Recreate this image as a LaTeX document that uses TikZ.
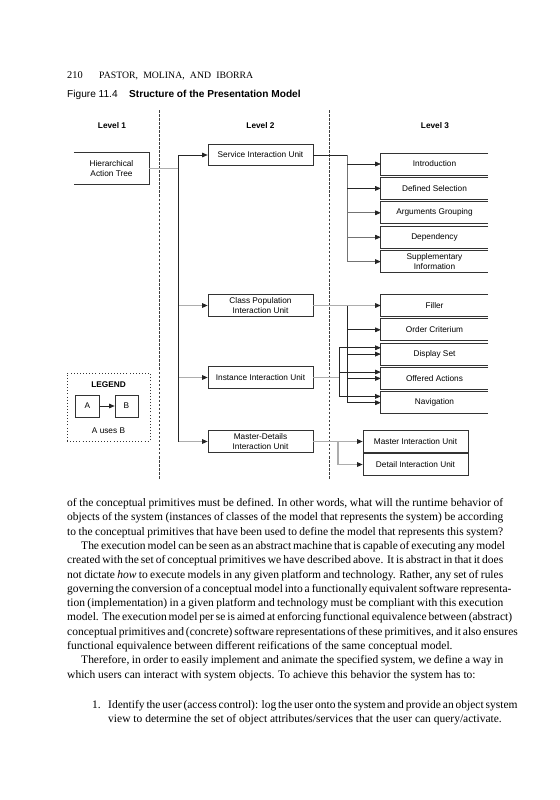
\documentclass[tikz,border=0pt]{standalone}
\usepackage{fontspec}
\setmainfont{Liberation Serif}
\newfontfamily\figsans{Liberation Sans}
\usetikzlibrary{arrows.meta}
\newlength\tw \setlength\tw{379.32pt}
\newlength\twi \setlength\twi{367.14pt}
\newlength\twl \setlength\twl{343.65pt}
\begin{document}
\begin{tikzpicture}[x=0.87pt,y=-0.87pt,
  bx/.style={draw=black!80, line width=0.6pt},
  box/.style={draw=black!80, line width=0.6pt, inner sep=0pt, minimum width=91.35pt, minimum height=18.7pt, align=center, font=\figsans\fontsize{7.2}{8.3}\selectfont},
  obox/.style={inner sep=0pt, minimum width=93.1pt, minimum height=18.7pt, align=center, font=\figsans\fontsize{7.2}{8.3}\selectfont},
  lvl/.style={inner sep=0pt, font=\figsans\bfseries\fontsize{7.2}{8.3}\selectfont},
  dk/.style={draw=black!85, line width=0.6pt},
  md/.style={draw=black!55, line width=0.7pt},
  lt/.style={draw=black!32, line width=0.9pt},
  arr/.style={-{Triangle[length=4.8pt,width=4pt,color=black!85]}},
  dsh/.style={draw=black!75, line width=0.5pt, dash pattern=on 2.2pt off 1.3pt},
  txt/.style={anchor=base west, inner sep=0pt, font=\fontsize{10}{12.5}\selectfont}
]
\fill[white] (0,0) rectangle (560,800);
\useasboundingbox (0,0) rectangle (560,800);

% header and caption
\node[anchor=base west, inner sep=0pt, font=\fontsize{9}{11}\selectfont] (pg) at (67,78.4) {210};
\node[anchor=base west, inner sep=0pt, font=\fontsize{8.5}{10}\selectfont] (hd) at (99,78.4) {\hbox to 134pt{PASTOR,\hfill MOLINA,\hfill AND\hfill IBORRA}};
\node[anchor=base west, inner sep=0pt, font=\figsans\fontsize{8.8}{10}\selectfont] (fig) at (67,97.9) {Figure 11.4};
\node[anchor=base west, inner sep=0pt, font=\figsans\bfseries\fontsize{8.8}{10}\selectfont] (cap) at (129,97.9) {Structure of the Presentation Model};

% level labels
\node[lvl] (l1) at (112,126) {Level 1};
\node[lvl] (l2) at (260.5,126) {Level 2};
\node[lvl] (l3) at (435,126) {Level 3};

% dashed separators
\coordinate (d1t) at (159,110); \coordinate (d1b) at (159,480);
\coordinate (d2t) at (329,110); \coordinate (d2b) at (329,480);
\draw[dsh] (d1t) -- (d1b);
\draw[dsh] (d2t) -- (d2b);

% level 1
\node[obox, minimum width=65.25pt, minimum height=27pt] (hier) at (111.5,168.5) {Hierarchical\\Action Tree};
\draw[bx] (hier.north west) -- (hier.north east) -- (hier.south east) -- (hier.south west);

% level 2
\node[box] (serv) at (260.5,155) {Service Interaction Unit};
\node[box] (cp) at (260.5,305.5) {Class Population\\Interaction Unit};
\node[box] (inst) at (260.5,377.5) {Instance Interaction Unit};
\node[box] (mdu) at (260.5,441.5) {Master-Details\\Interaction Unit};

% level 3
\node[obox] (intro) at (434.5,164) {Introduction};
\node[obox] (defs) at (434.5,188.4) {Defined Selection};
\node[obox] (args) at (434.5,212.8) {Arguments Grouping};
\node[obox] (dep) at (434.5,237.2) {Dependency};
\node[obox] (supp) at (434.5,261.6) {Supplementary\\Information};
\node[obox] (filler) at (434.5,305.5) {Filler};
\node[obox] (order) at (434.5,329.8) {Order Criterium};
\node[obox] (disp) at (434.5,354.1) {Display Set};
\node[obox] (offer) at (434.5,378.4) {Offered Actions};
\node[obox] (nav) at (434.5,402.7) {Navigation};
\foreach \n in {intro,defs,args,dep,supp,filler,order,disp,offer,nav}
  \draw[bx] (\n.north east) -- (\n.north west) -- (\n.south west) -- (\n.south east);
\node[box] (master) at (415.5,441.5) {Master Interaction Unit};
\node[box] (detail) at (415.5,464.5) {Detail Interaction Unit};

% trunks
\coordinate (t1) at (178,0);
\coordinate (t2) at (347,0);
\coordinate (t3) at (347,0);
\coordinate (t4) at (339,0);
\coordinate (t5) at (338,0);

% level 1 -> level 2
\draw[lt] (hier.east) -- (hier.east -| t1);
\draw[lt,arr] (t1 |- cp.west) -- (cp.west);
\draw[lt,arr] (t1 |- inst.west) -- (inst.west);
\draw[lt,arr] (t1 |- mdu.west) -- (mdu.west);
\draw[dk] (t1 |- serv.west) -- (t1 |- mdu.west);
\draw[dk,arr] (t1 |- serv.west) -- (serv.west);

% service -> level 3
\draw[md] (serv.east -| t2) -- (t2 |- supp.west);
\draw[dk] (serv.east) -- (serv.east -| t2);
\draw[dk,arr] (t2 |- intro.west) -- (intro.west);
\draw[dk,arr] (t2 |- defs.west) -- (defs.west);
\foreach \n in {args,dep,supp} \draw[md,arr] (t2 |- \n.west) -- (\n.west);

% class population and instance -> level 3
\draw[lt,arr] (cp.east) -- (filler.west);
\draw[lt] (inst.east) -- (inst.east -| t4);
\coordinate (dispU) at ([yshift=5.5pt]disp.west);
\coordinate (offerU) at ([yshift=5.5pt]offer.west);
\coordinate (navU) at ([yshift=5.5pt]nav.west);
\draw[dk] (dispU -| t4) -- (navU -| t4);
\foreach \n in {dispU,offerU,navU} \draw[dk,arr] (\n -| t4) -- (\n);
\draw[dk] (t3 |- filler.west) -- (t3 |- nav.west);
\foreach \n in {order,disp,offer,nav} \draw[dk,arr] (t3 |- \n.west) -- (\n.west);

% master-details
\draw[lt,arr] (mdu.east) -- (master.west);
\draw[lt,arr] (mdu.east -| t5) -- (t5 |- detail.west) -- (detail.west);

% legend
\node[draw=black!80, dotted, line width=0.7pt, minimum width=72.2pt, minimum height=59.2pt, inner sep=0pt] (leg) at (108.5,407) {};
\node[lvl] (legt) at (108.5,385) {LEGEND};
\node[box, minimum width=21pt, minimum height=19pt] (la) at (87.5,406) {A};
\node[box, minimum width=20pt, minimum height=19pt] (lb) at (126.5,406) {B};
\draw[dk,arr] (la.east) -- (lb.west);
\node[inner sep=0pt, font=\figsans\fontsize{7.2}{8.3}\selectfont] (legu) at (108.5,431) {A uses B};

% body text
\node[txt] (b1) at (67,506.5) {\hbox to\tw{of the conceptual primitives must be defined. In other words, what will the runtime behavior of}};
\node[txt] (b2) at (67,520.8) {\hbox to\tw{objects of the system (instances of classes of the model that represents the system) be according}};
\node[txt] (b3) at (67,535.1) {\hbox to\tw{to the conceptual primitives that have been used to define the model that represents this system?}};
\node[txt] (b4) at (81,549.4) {\hbox to\twi{The execution model can be seen as an abstract machine that is capable of executing any model}};
\node[txt] (b5) at (67,563.7) {\hbox to\tw{created with the set of conceptual primitives we have described above. It is abstract in that it does}};
\node[txt] (b6) at (67,578.0) {\hbox to\tw{not dictate \emph{how} to execute models in any given platform and technology. Rather, any set of rules}};
\node[txt] (b7) at (67,592.3) {\hbox to\tw{governing the conversion of a conceptual model into a functionally equivalent software representa-}};
\node[txt] (b8) at (67,606.6) {\hbox to\tw{tion (implementation) in a given platform and technology must be compliant with this execution}};
\node[txt] (b9) at (67,620.9) {\hbox to\tw{model. The execution model per se is aimed at enforcing functional equivalence between (abstract)}};
\node[txt] (b10) at (67,635.2) {\hbox to\tw{conceptual primitives and (concrete) software representations of these primitives, and it also ensures}};
\node[txt] (b11) at (67,649.5) {functional equivalence between different reifications of the same conceptual model.};
\node[txt] (b12) at (81,663.8) {\hbox to\twi{Therefore, in order to easily implement and animate the specified system, we define a way in}};
\node[txt] (b13) at (67,678.1) {which users can interact with system objects. To achieve this behavior the system has to:};
\node[txt] (b14n) at (92,708) {1.};
\node[txt] (b14) at (108,708) {\hbox to\twl{Identify the user (access control): log the user onto the system and provide an object system}};
\node[txt] (b15) at (108,722.3) {view to determine the set of object attributes/services that the user can query/activate.};
\end{tikzpicture}
\end{document}
